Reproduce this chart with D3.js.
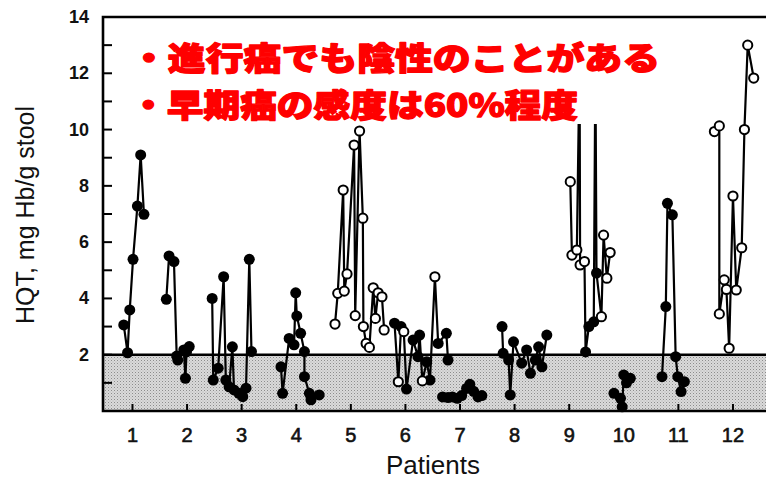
<!DOCTYPE html>
<html><head><meta charset="utf-8">
<script src="https://cdn.jsdelivr.net/npm/d3@7"></script>
<style>html,body{margin:0;padding:0;background:#fff;}svg{display:block;}</style>
</head><body>
<svg id="chart" width="766" height="481"></svg>
<script>
// ---- data (position on patient axis, HQT mg Hb/g stool, marker kind: f = filled, o = open) ----
const patientTicks = [1,2,3,4,5,6,7,8,9,10,11,12];
const yTickLabels = [2,4,6,8,10,12,14];
const yMinorTicks = [1,2,3,4,5,6,7,8,9,10,11,12,13];
const normalLimit = 2;
const notes = ["・進行癌でも陰性のことがある", "・早期癌の感度は60%程度"];
const xTitle = "Patients";
const yTitle = "HQT, mg Hb/g stool";

const patient1 = [[0.84,3.06,"f"],[0.91,2.07,"f"],[0.95,3.59,"f"],[1.01,5.39,"f"],[1.09,7.28,"f"],[1.15,9.1,"f"],[1.21,6.99,"f"]];
const patient2 = [[1.62,3.97,"f"],[1.67,5.51,"f"],[1.76,5.31,"f"],[1.81,1.95,"f"],[1.83,1.81,"f"],[1.94,2.17,"f"],[1.97,1.16,"f"],[1.99,2.1,"f"],[2.04,2.29,"f"]];
const patient3 = [[2.46,4.0,"f"],[2.48,1.1,"f"],[2.57,1.52,"f"],[2.67,4.77,"f"],[2.71,1.1,"f"],[2.77,0.86,"f"],[2.83,2.28,"f"],[2.86,0.75,"f"],[2.95,0.63,"f"],[3.02,0.51,"f"],[3.08,0.81,"f"],[3.14,5.39,"f"],[3.18,2.11,"f"]];
const patient4 = [[3.72,1.57,"f"],[3.75,0.63,"f"],[3.87,2.58,"f"],[3.96,2.35,"f"],[3.99,4.2,"f"],[4.01,3.38,"f"],[4.08,2.76,"f"],[4.15,2.11,"f"],[4.15,1.22,"f"],[4.24,0.63,"f"],[4.27,0.4,"f"],[4.42,0.57,"f"]];
const patient5 = [[4.71,3.09,"o"],[4.76,4.18,"o"],[4.86,7.85,"o"],[4.88,4.26,"o"],[4.93,4.87,"o"],[5.06,9.45,"o"],[5.08,3.39,"o"],[5.16,9.95,"o"],[5.22,6.85,"o"],[5.23,3.0,"o"],[5.28,2.4,"o"],[5.34,2.26,"o"],[5.41,4.38,"o"],[5.45,3.29,"o"],[5.5,4.2,"o"],[5.57,4.06,"o"],[5.61,2.88,"o"]];
const patient6 = [[5.8,3.12,"f"],[5.87,1.04,"o"],[5.92,3.0,"f"],[5.97,2.82,"o"],[6.02,0.78,"f"],[6.14,2.52,"f"],[6.23,1.93,"f"],[6.26,2.7,"f"],[6.31,1.07,"o"],[6.39,1.75,"f"],[6.45,1.1,"f"],[6.54,4.77,"o"],[6.6,2.4,"f"],[6.75,2.76,"f"],[6.78,1.81,"f"]];
const patient7 = [[6.68,0.5,"f"],[6.78,0.48,"f"],[6.86,0.5,"f"],[6.95,0.45,"f"],[7.03,0.55,"f"],[7.12,0.8,"f"],[7.18,0.95,"f"],[7.25,0.7,"f"],[7.33,0.5,"f"],[7.4,0.55,"f"]];
const patient8 = [[7.77,3.0,"f"],[7.79,2.05,"f"],[7.89,1.81,"f"],[7.92,0.57,"f"],[7.98,2.46,"f"],[8.13,1.7,"f"],[8.22,2.17,"f"],[8.29,1.34,"f"],[8.38,1.81,"f"],[8.44,2.28,"f"],[8.5,1.57,"f"],[8.59,2.7,"f"]];
const patient9 = [[9.02,8.15,"o"],[9.05,5.54,"o"],[9.14,5.72,"o"],[9.19,12.5,"o"],[9.2,5.19,"o"],[9.28,5.31,"o"],[9.3,2.1,"f"],[9.36,3.0,"f"],[9.45,3.17,"f"],[9.48,12.5,"o"],[9.5,4.9,"f"],[9.59,3.35,"o"],[9.63,6.25,"o"],[9.69,4.72,"o"],[9.75,5.63,"o"]];
const patient10 = [[9.82,0.63,"f"],[9.94,0.45,"f"],[9.97,0.15,"f"],[10.0,1.28,"f"],[10.05,1.0,"f"],[10.12,1.16,"f"]];
const patient11 = [[10.7,1.22,"f"],[10.77,3.71,"f"],[10.8,7.38,"f"],[10.89,6.97,"f"],[10.95,1.93,"f"],[10.99,1.22,"f"],[11.05,0.69,"f"],[11.11,1.04,"f"]];
const patient12 = [[11.66,9.93,"o"],[11.75,10.13,"o"],[11.75,3.45,"o"],[11.84,4.66,"o"],[11.88,4.32,"o"],[11.93,2.23,"o"],[12.0,7.64,"o"],[12.06,4.3,"o"],[12.16,5.8,"o"],[12.21,10.0,"o"],[12.27,13.0,"o"],[12.38,11.83,"o"]];
const allPatients = [patient1,patient2,patient3,patient4,patient5,patient6,patient7,patient8,patient9,patient10,patient11,patient12];

// ---- drawing ----
const svg = d3.select("#chart");
const plotL = 103, plotR = 775, plotT = 17, plotB = 411;
const x = d3.scaleLinear().domain([0.46, 12.77]).range([plotL, plotR]);
const y = d3.scaleLinear().domain([0, 14]).range([plotB, plotT]);

const defs = svg.append("defs");
const pat = defs.append("pattern").attr("id","dots").attr("width",3).attr("height",3).attr("patternUnits","userSpaceOnUse");
pat.append("rect").attr("width",3).attr("height",3).attr("fill","#dadada");
pat.append("rect").attr("x",0).attr("y",0).attr("width",1).attr("height",1).attr("fill","#8c8c8c");
pat.append("rect").attr("x",1.5).attr("y",1.5).attr("width",1).attr("height",1).attr("fill","#b0b0b0");

// normal range band
svg.append("rect").attr("x", plotL).attr("y", y(normalLimit)).attr("width", plotR-plotL).attr("height", y(0)-y(normalLimit)).attr("fill","url(#dots)");
svg.append("line").attr("x1",plotL).attr("x2",plotR).attr("y1",y(normalLimit)).attr("y2",y(normalLimit)).attr("stroke","#000").attr("stroke-width",2.6);

// frame
svg.append("path").attr("d", `M${plotR},${plotT}H${plotL}V${plotB}H${plotR}`).attr("fill","none").attr("stroke","#000").attr("stroke-width",2.6);

// y ticks (inside)
svg.append("g").selectAll("line").data(yMinorTicks).join("line")
  .attr("x1", plotL).attr("x2", plotL+9).attr("y1", d=>y(d)).attr("y2", d=>y(d))
  .attr("stroke","#000").attr("stroke-width",2);
svg.append("g").selectAll("text").data(yTickLabels).join("text")
  .attr("x", 89).attr("y", d=>y(d)+6).attr("text-anchor","end")
  .attr("font-family","Liberation Sans, Arial, sans-serif").attr("font-weight","bold").attr("font-size",18)
  .attr("fill","#111").text(d=>d);

// x ticks (inside)
svg.append("g").selectAll("line").data(patientTicks).join("line")
  .attr("x1", d=>x(d)).attr("x2", d=>x(d)).attr("y1", plotB).attr("y2", plotB-7)
  .attr("stroke","#000").attr("stroke-width",2);
svg.append("g").selectAll("text").data(patientTicks).join("text")
  .attr("x", d=>x(d)).attr("y", 442).attr("text-anchor","middle")
  .attr("font-family","Liberation Sans, Arial, sans-serif").attr("font-size",20)
  .attr("fill","#111").attr("stroke","#111").attr("stroke-width",0.6).text(d=>d);

// axis titles
svg.append("text").attr("x", 433).attr("y", 474).attr("text-anchor","middle")
  .attr("font-family","Liberation Sans, Arial, sans-serif").attr("font-size",26).attr("fill","#111").text(xTitle);
svg.append("text").attr("transform","translate(34,215) rotate(-90)").attr("text-anchor","middle")
  .attr("font-family","Liberation Sans, Arial, sans-serif").attr("font-size",25).attr("fill","#111").text(yTitle);

// series
const line = d3.line().x(d=>x(d[0])).y(d=>y(d[1]));
const g = svg.append("g");
allPatients.forEach(series => {
  g.append("path").attr("d", line(series)).attr("fill","none").attr("stroke","#000").attr("stroke-width",2.2).attr("stroke-linejoin","round");
});
allPatients.forEach(series => {
  g.append("g").selectAll("circle").data(series.filter(d=>d[2]==="f")).join("circle")
    .attr("cx", d=>x(d[0])).attr("cy", d=>y(d[1])).attr("r", 5.5).attr("fill","#000");
});
allPatients.forEach(series => {
  g.append("g").selectAll("circle").data(series.filter(d=>d[2]==="o")).join("circle")
    .attr("cx", d=>x(d[0])).attr("cy", d=>y(d[1])).attr("r", 4.6).attr("fill","#fff").attr("stroke","#000").attr("stroke-width",2);
});

// annotation box
svg.append("rect").attr("x", 118).attr("y", 26).attr("width", 552).attr("height", 98).attr("fill","#fff");
const noteY = [69.5, 116.5];
const noteLen = [530, 448];
svg.append("g").selectAll("text").data(notes).join("text")
  .attr("x", 130).attr("y", (d,i)=>noteY[i])
  .attr("textLength", (d,i)=>noteLen[i]).attr("lengthAdjust","spacingAndGlyphs")
  .attr("font-family","Noto Sans CJK JP, sans-serif").attr("font-weight",900).attr("font-size",32)
  .attr("fill","#ff0000").attr("stroke","#ff0000").attr("stroke-width",1.3).attr("stroke-linejoin","round")
  .text(d=>d);
</script>
</body></html>
